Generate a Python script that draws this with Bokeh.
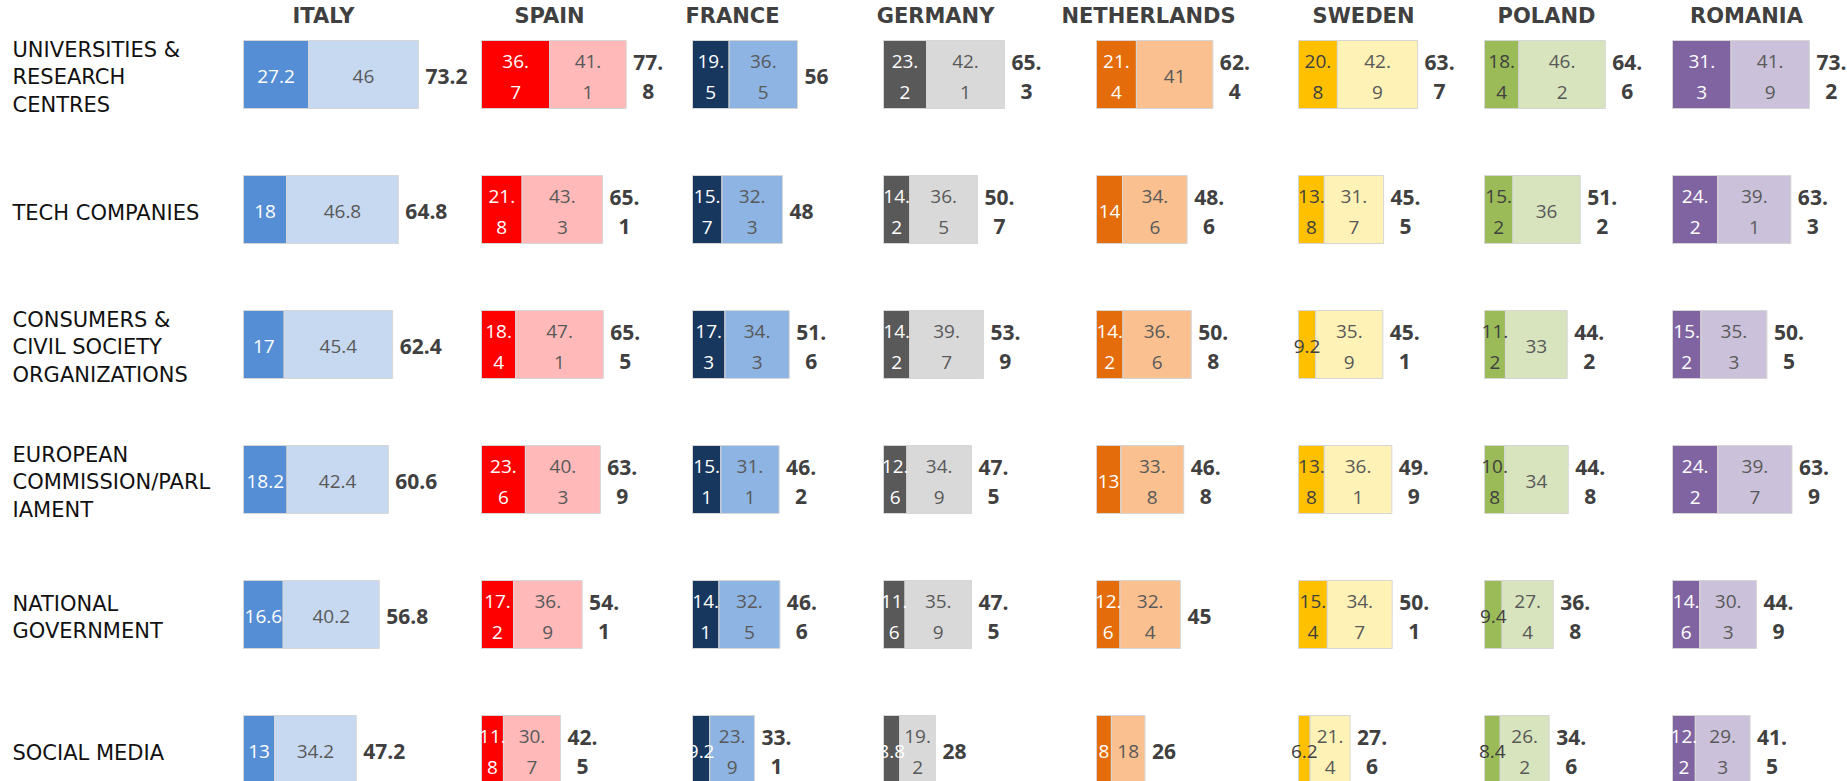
from bokeh.plotting import figure
from bokeh.models import ColumnDataSource, Range1d
from bokeh.core.properties import value
from bokeh.embed import file_html
from bokeh.resources import INLINE

# ---------------- data ----------------
categories = [
    "UNIVERSITIES &\nRESEARCH\nCENTRES",
    "TECH COMPANIES",
    "CONSUMERS &\nCIVIL SOCIETY\nORGANIZATIONS",
    "EUROPEAN\nCOMMISSION/PARL\nIAMENT",
    "NATIONAL\nGOVERNMENT",
    "SOCIAL MEDIA",
]
countries = ["ITALY", "SPAIN", "FRANCE", "GERMANY", "NETHERLANDS", "SWEDEN", "POLAND", "ROMANIA"]

italy_first = [27.2, 18, 17, 18.2, 16.6, 13]
italy_second = [46, 46.8, 45.4, 42.4, 40.2, 34.2]
italy_total = [73.2, 64.8, 62.4, 60.6, 56.8, 47.2]

spain_first = [36.7, 21.8, 18.4, 23.6, 17.2, 11.8]
spain_second = [41.1, 43.3, 47.1, 40.3, 36.9, 30.7]
spain_total = [77.8, 65.1, 65.5, 63.9, 54.1, 42.5]

france_first = [19.5, 15.7, 17.3, 15.1, 14.1, 9.2]
france_second = [36.5, 32.3, 34.3, 31.1, 32.5, 23.9]
france_total = [56, 48, 51.6, 46.2, 46.6, 33.1]

germany_first = [23.2, 14.2, 14.2, 12.6, 11.6, 8.8]
germany_second = [42.1, 36.5, 39.7, 34.9, 35.9, 19.2]
germany_total = [65.3, 50.7, 53.9, 47.5, 47.5, 28]

netherlands_first = [21.4, 14, 14.2, 13, 12.6, 8]
netherlands_second = [41, 34.6, 36.6, 33.8, 32.4, 18]
netherlands_total = [62.4, 48.6, 50.8, 46.8, 45, 26]

sweden_first = [20.8, 13.8, 9.2, 13.8, 15.4, 6.2]
sweden_second = [42.9, 31.7, 35.9, 36.1, 34.7, 21.4]
sweden_total = [63.7, 45.5, 45.1, 49.9, 50.1, 27.6]

poland_first = [18.4, 15.2, 11.2, 10.8, 9.4, 8.4]
poland_second = [46.2, 36, 33, 34, 27.4, 26.2]
poland_total = [64.6, 51.2, 44.2, 44.8, 36.8, 34.6]

romania_first = [31.3, 24.2, 15.2, 24.2, 14.6, 12.2]
romania_second = [41.9, 39.1, 35.3, 39.7, 30.3, 29.3]
romania_total = [73.2, 63.3, 50.5, 63.9, 44.9, 41.5]

first_values = [italy_first, spain_first, france_first, germany_first,
                netherlands_first, sweden_first, poland_first, romania_first]
second_values = [italy_second, spain_second, france_second, germany_second,
                 netherlands_second, sweden_second, poland_second, romania_second]
total_values = [italy_total, spain_total, france_total, germany_total,
                netherlands_total, sweden_total, poland_total, romania_total]

# ---------------- styling / layout ----------------
dark_colors = ["#558ED5", "#FF0000", "#17375E", "#595959", "#E46C0A", "#FFC000", "#9BBB59", "#8064A2"]
light_colors = ["#C6D9F1", "#FFB9B9", "#8DB4E2", "#D9D9D9", "#FAC090", "#FFF2B6", "#D7E4BD", "#CCC1DA"]
dark_text = ["white", "white", "white", "white", "white", "#404040", "#404040", "white"]
wrap_labels = [False, True, True, True, True, True, True, True]

W = 1847
H = 781
panel_starts = [243, 481, 692, 883, 1096, 1298, 1484, 1672]   # px where each panel's bars begin
px_per_unit = [2.39, 1.86, 1.875, 1.853, 1.865, 1.87, 1.87, 1.87]
title_offsets = [80, 68, 40, 52, 52, 65, 62, 74]               # px from bar start to title centre

ROW_PX = 135.0
FIRST_ROW_PX = 74.0
BAR_PX = 68.0
y_top = -FIRST_ROW_PX / ROW_PX
y_bottom = (H - FIRST_ROW_PX) / ROW_PX
bar_h = BAR_PX / ROW_PX
title_y = (15 - FIRST_ROW_PX) / ROW_PX

LABEL_FONT = value("DejaVu Sans")
NUM_FONT = value("Open Sans")


def fmt(v):
    return str(int(v)) if float(v).is_integer() else str(v)


def wrapped(s, wrap):
    if wrap and "." in s and len(s) >= 4:
        i = s.index(".")
        return s[: i + 1] + "\n" + s[i + 1:]
    return s


p = figure(width=W, height=H, x_range=Range1d(0, W), y_range=Range1d(y_bottom, y_top),
           output_backend="svg", toolbar_location=None, min_border=0,
           min_border_left=0, min_border_right=0, min_border_top=0, min_border_bottom=0)
p.axis.visible = False
p.grid.visible = False
p.outline_line_color = None
p.background_fill_color = "white"
p.border_fill_color = "white"

# one x scale per country panel
for k, name in enumerate(countries):
    s = px_per_unit[k]
    p.extra_x_ranges[name] = Range1d(-panel_starts[k] / s, (W - panel_starts[k]) / s)

# category labels
label_src = ColumnDataSource(dict(y=list(range(len(categories))), text=categories))
p.text(x=12, y="y", text="text", source=label_src, text_font=LABEL_FONT,
       text_font_size="21px", text_color="#111111", text_baseline="middle",
       text_align="left", text_line_height=1.14, y_offset=3)

rows_idx = list(range(len(categories)))
for k, name in enumerate(countries):
    scale = px_per_unit[k]
    first = first_values[k]
    second = second_values[k]
    total = total_values[k]
    wrap = wrap_labels[k]
    src = ColumnDataSource(dict(
        y=rows_idx,
        first=first,
        second_right=[a + b for a, b in zip(first, second)],
        first_mid=[a / 2 for a in first],
        second_mid=[a + b / 2 for a, b in zip(first, second)],
        first_lbl=[wrapped(fmt(a), wrap) for a in first],
        second_lbl=[wrapped(fmt(b), wrap) for b in second],
    ))
    p.hbar(y="y", left=0, right="first", height=bar_h, source=src, x_range_name=name,
           fill_color=dark_colors[k], line_color="#D6D6D6", line_width=1)
    p.hbar(y="y", left="first", right="second_right", height=bar_h, source=src, x_range_name=name,
           fill_color=light_colors[k], line_color="#D6D6D6", line_width=1)
    p.text(x="first_mid", y="y", text="first_lbl", source=src, x_range_name=name,
           text_font=NUM_FONT, text_font_size="19px", text_color=dark_text[k],
           text_align="center", text_baseline="middle", text_line_height=1.17, y_offset=2)
    p.text(x="second_mid", y="y", text="second_lbl", source=src, x_range_name=name,
           text_font=NUM_FONT, text_font_size="19px", text_color="#595959",
           text_align="center", text_baseline="middle", text_line_height=1.17, y_offset=2)

    single_y, single_x, single_t = [], [], []
    multi_y, multi_x, multi_t = [], [], []
    for i, t in enumerate(total):
        s = wrapped(fmt(t), wrap)
        if "\n" in s:
            multi_y.append(i); multi_x.append(t); multi_t.append(s)
        else:
            single_y.append(i); single_x.append(t); single_t.append(s)
    p.text(x=single_x, y=single_y, text=single_t, x_offset=7, y_offset=2, x_range_name=name,
           text_font=NUM_FONT, text_font_size="21px", text_font_style="bold",
           text_color="#404040", text_align="left", text_baseline="middle")
    p.text(x=multi_x, y=multi_y, text=multi_t, x_offset=22, y_offset=2, x_range_name=name,
           text_font=NUM_FONT, text_font_size="21px", text_font_style="bold",
           text_color="#404040", text_align="center", text_baseline="middle",
           text_line_height=1.05)

    # panel title
    p.text(x=[title_offsets[k] / scale], y=[title_y], text=[name], x_range_name=name,
           text_font=LABEL_FONT, text_font_size="21px", text_font_style="bold",
           text_color="#404040", text_align="center", text_baseline="middle")

open("out.html", "w").write(file_html(p, INLINE))
